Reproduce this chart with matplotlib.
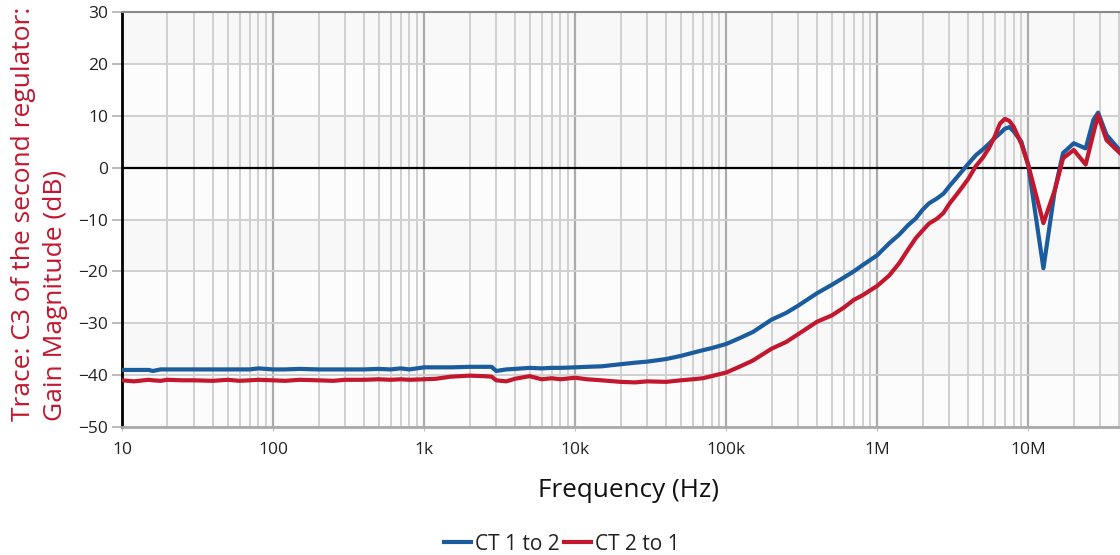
import numpy as np
import matplotlib
matplotlib.use("Agg")
import matplotlib.pyplot as plt
from matplotlib.ticker import FixedLocator, LogLocator, NullFormatter

plt.rcParams["font.family"] = ["Open Sans", "DejaVu Sans"]

# frequency points (Hz)
freq = [10, 12, 15, 16, 18, 20, 25, 30, 40, 50,
        60, 70, 80, 100, 120, 150, 200, 250, 300, 400,
        500, 600, 700, 800, 1e3, 1.2e3, 1.5e3, 2e3, 2.5e3, 2.8e3,
        3e3, 3.5e3, 4e3, 5e3, 6e3, 7e3, 8e3, 10e3, 12e3, 15e3,
        20e3, 25e3, 30e3, 40e3, 50e3, 60e3, 70e3, 80e3, 100e3, 120e3,
        150e3, 200e3, 250e3, 300e3, 400e3, 500e3, 600e3, 700e3, 800e3, 1e6,
        1.2e6, 1.4e6, 1.6e6, 1.8e6, 2e6, 2.2e6, 2.5e6, 2.75e6, 3e6, 3.5e6,
        4e6, 4.5e6, 5e6, 5.5e6, 6e6, 6.5e6, 7e6, 7.5e6, 8e6, 9e6,
        10e6, 12.6e6, 15e6, 17e6, 20e6, 24e6, 27e6, 29e6, 33e6, 40.5e6]

ct_1_to_2 = [-39.0, -39.0, -39.0, -39.2, -38.9, -38.9, -38.9, -38.9, -38.9, -38.9,
             -38.9, -38.9, -38.7, -38.9, -38.9, -38.8, -38.9, -38.9, -38.9, -38.9,
             -38.8, -38.9, -38.7, -38.9, -38.5, -38.5, -38.5, -38.4, -38.4, -38.4,
             -39.2, -38.9, -38.8, -38.6, -38.7, -38.6, -38.6, -38.5, -38.4, -38.3,
             -37.9, -37.6, -37.4, -36.9, -36.3, -35.7, -35.2, -34.8, -34.0, -33.0,
             -31.7, -29.3, -28.0, -26.6, -24.2, -22.6, -21.2, -20.0, -18.8, -16.9,
             -14.6, -12.9, -11.1, -9.8, -8.1, -6.9, -5.9, -5.0, -3.6, -1.3,
             0.7, 2.4, 3.5, 4.6, 5.7, 6.6, 7.5, 7.8, 7.0, 5.0,
             0.5, -19.4, -4.3, 2.8, 4.7, 3.7, 9.2, 10.6, 6.3, 3.3]

ct_2_to_1 = [-41.0, -41.2, -40.9, -41.0, -41.1, -40.9, -41.0, -41.0, -41.1, -40.9,
             -41.1, -41.0, -40.9, -41.0, -41.1, -40.9, -41.0, -41.1, -40.9, -40.9,
             -40.8, -40.9, -40.8, -40.9, -40.8, -40.7, -40.3, -40.1, -40.2, -40.3,
             -41.0, -41.2, -40.7, -40.2, -40.8, -40.6, -40.8, -40.5, -40.8, -41.0,
             -41.3, -41.4, -41.2, -41.3, -41.0, -40.8, -40.6, -40.2, -39.5, -38.5,
             -37.2, -34.9, -33.6, -32.1, -29.7, -28.5, -27.0, -25.5, -24.6, -22.8,
             -20.8, -18.4, -15.8, -13.6, -12.1, -10.8, -9.8, -8.7, -7.0, -4.5,
             -2.2, 0.3, 1.9, 3.8, 6.0, 8.5, 9.4, 9.0, 7.9, 4.6,
             0.5, -10.7, -4.3, 1.8, 3.4, 0.6, 6.6, 10.1, 5.3, 2.8]

x_ticks = [10, 100, 1e3, 1e4, 1e5, 1e6, 1e7]
x_tick_labels = ["10", "100", "1k", "10k", "100k", "1M", "10M"]
y_ticks = [30, 20, 10, 0, -10, -20, -30, -40, -50]

blue = "#1a5c9e"
red = "#c3172e"

fig = plt.figure(figsize=(11.2, 5.55), dpi=100)
ax = fig.add_axes([122 / 1120, 1 - 427 / 555, 998 / 1120, 415 / 555])
ax.set_facecolor("#f8f8f8")

# alternating bands
for lo in range(-50, 30, 20):
    ax.axhspan(lo, lo + 10, color="#fcfcfc", zorder=0, lw=0)

ax.plot(freq, ct_1_to_2, color=blue, lw=3, label="CT 1 to 2", zorder=4)
ax.plot(freq, ct_2_to_1, color=red, lw=3, label="CT 2 to 1", zorder=5)
ax.axhline(0, color="black", lw=1.6, zorder=3)

ax.set_xscale("log")
ax.set_xlim(10, 40.5e6)
ax.set_ylim(-50, 30)

ax.xaxis.set_major_locator(FixedLocator(x_ticks))
ax.set_xticklabels(x_tick_labels)
ax.xaxis.set_minor_locator(LogLocator(base=10, subs=np.arange(2, 10), numticks=100))
ax.xaxis.set_minor_formatter(NullFormatter())
ax.set_yticks(y_ticks)

ax.grid(which="major", axis="x", color="#ababab", lw=1.6, zorder=1)
ax.grid(which="minor", axis="x", color="#d0d0d0", lw=1.4, zorder=1)
ax.grid(which="major", axis="y", color="#d0d0d0", lw=1.4, zorder=1)
ax.set_axisbelow(True)

ax.tick_params(axis="y", length=7, width=1.2, color="#b0b0b0", labelsize=12.5,
               labelcolor="#222222", pad=3)
ax.tick_params(axis="x", which="major", length=3, color="#c0c0c0", labelsize=12.5,
               labelcolor="#222222", pad=8)
ax.tick_params(axis="x", which="minor", length=0)

ax.spines["left"].set_color("black")
ax.spines["left"].set_linewidth(2)
ax.spines["top"].set_color("#8a8a8a")
ax.spines["top"].set_linewidth(1.5)
ax.spines["bottom"].set_color("#aaaaaa")
ax.spines["bottom"].set_linewidth(2)
ax.spines["right"].set_visible(False)

ax.set_xlabel("Frequency (Hz)", fontsize=18.8, color="#111111", labelpad=14)
ax.xaxis.label.set_x((629 - 122) / 998)
fig.text(0.035, 1 - 214 / 555, "Trace: C3 of the second regulator:\nGain Magnitude (dB)",
         rotation=90, color=red, fontsize=19, ha="center", va="center",
         multialignment="left", linespacing=1.35)

ax.legend(loc="center", bbox_to_anchor=(562 / 1120, 11 / 555),
          bbox_transform=fig.transFigure, ncol=2, frameon=False,
          fontsize=15, handlelength=1.3, handletextpad=0.2,
          columnspacing=0.2, borderaxespad=0, labelcolor="#222222")

fig.savefig("out.png", dpi=100)
